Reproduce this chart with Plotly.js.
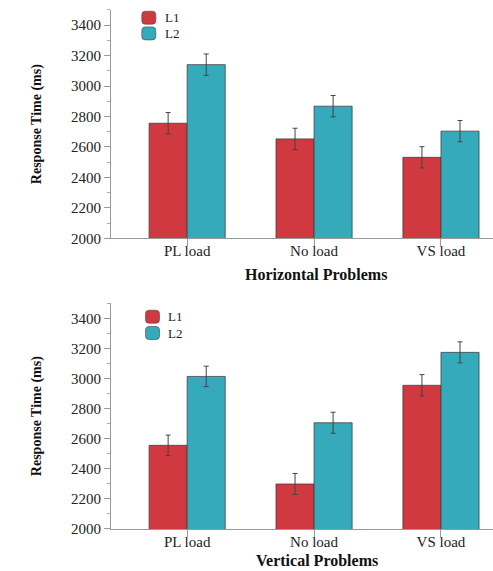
<!DOCTYPE html>
<html><head><meta charset="utf-8">
<script src="https://cdn.plot.ly/plotly-3.0.1.min.js"></script>
<style>body{margin:0;padding:0;background:#fff}#chart{width:493px;height:571px}</style>
</head><body><div id="chart"></div>
<script>
const categories = ["PL load", "No load", "VS load"];
const seriesNames = ["L1", "L2"];
const horizL1 = [2756, 2653, 2532];
const horizL2 = [3141, 2868, 2704];
const horizL1Err = [70, 70, 70];
const horizL2Err = [70, 70, 70];
const vertL1 = [2556, 2299, 2955];
const vertL2 = [3014, 2706, 3174];
const vertL1Err = [68, 70, 71];
const vertL2Err = [68, 70, 70];
const panelTitles = ["Horizontal Problems", "Vertical Problems"];
const yTitle = "Response Time (ms)";

const RED = "#d0393f", TEAL = "#35aabb";
const FONT = "Liberation Serif, Times New Roman, serif";
const W = 493, H = 571;

function barTrace(name, y, err, color, xa, ya) {
  return {
    type: "bar", name: name, x: categories, y: y, xaxis: xa, yaxis: ya,
    showlegend: false,
    marker: {color: color, line: {color: "rgba(60,60,60,0.75)", width: 1}},
    error_y: {type: "data", array: err, visible: true, color: "#444", thickness: 1, width: 2.5}
  };
}

const data = [
  barTrace(seriesNames[0], horizL1, horizL1Err, RED, "x", "y"),
  barTrace(seriesNames[1], horizL2, horizL2Err, TEAL, "x", "y"),
  barTrace(seriesNames[0], vertL1, vertL1Err, RED, "x2", "y2"),
  barTrace(seriesNames[1], vertL2, vertL2Err, TEAL, "x2", "y2")
];

function yax(domain, anchor) {
  return {
    domain: domain, anchor: anchor, range: [2000, 3500], autorange: false,
    dtick: 200, tick0: 2000, ticks: "outside", ticklen: 6, tickcolor: "#999", tickwidth: 1,
    minor: {dtick: 100, ticks: "outside", ticklen: 3, tickcolor: "#aaa", showgrid: false},
    showline: true, linecolor: "#999", linewidth: 1, showgrid: false, zeroline: false,
    tickfont: {family: FONT, size: 15, color: "#222"},
    title: {text: yTitle, font: {family: FONT, size: 14, color: "#111", weight: "bold"}, standoff: 26}
  };
}
function xax(domain, anchor) {
  return {
    domain: domain, anchor: anchor, range: [-0.6, 2.41], autorange: false,
    ticks: "outside", ticklen: 7, tickcolor: "#999", tickwidth: 1,
    ticklabelstandoff: -8,
    showline: true, linecolor: "#999", linewidth: 1, showgrid: false, zeroline: false,
    tickfont: {family: FONT, size: 15, color: "#222"}
  };
}

// custom legend: rounded swatches + labels (pixel positions)
const legendSpots = [
  {sx: 148.8, sy: [17.7, 33.4], tx: 163},
  {sx: 152.5, sy: [316.7, 333.0], tx: 166}
];
const swatch = "M-3.5,-6.5 H3.5 Q7,-6.5 7,-3 V3 Q7,6.5 3.5,6.5 H-3.5 Q-7,6.5 -7,3 V-3 Q-7,-6.5 -3.5,-6.5 Z";
const shapes = [], annotations = [];
const colors = [RED, TEAL];
legendSpots.forEach(function (spot) {
  for (let i = 0; i < 2; i++) {
    shapes.push({type: "path", xref: "paper", yref: "paper", xsizemode: "pixel", ysizemode: "pixel",
      xanchor: spot.sx / W, yanchor: 1 - spot.sy[i] / H, path: swatch,
      fillcolor: colors[i], line: {color: "rgba(70,70,70,0.6)", width: 1}});
    annotations.push({text: seriesNames[i], xref: "paper", yref: "paper", x: spot.tx / W, y: 1 - spot.sy[i] / H,
      xanchor: "left", yanchor: "middle", showarrow: false, font: {family: FONT, size: 13, color: "#222"}});
  }
});
annotations.push(
  {text: "<b>" + panelTitles[0] + "</b>", xref: "paper", yref: "paper", x: 0.641, y: 0.520,
   xanchor: "center", yanchor: "middle", showarrow: false, font: {family: FONT, size: 16, color: "#111"}},
  {text: "<b>" + panelTitles[1] + "</b>", xref: "paper", yref: "paper", x: 0.643, y: 0.0,
   xanchor: "center", yanchor: "bottom", showarrow: false, font: {family: FONT, size: 16, color: "#111"}}
);

const layout = {
  width: W, height: H,
  margin: {l: 0, r: 0, t: 0, b: 0},
  paper_bgcolor: "#fff", plot_bgcolor: "#fff",
  barmode: "group", bargap: 0.4, bargroupgap: 0,
  showlegend: false,
  font: {family: FONT},
  xaxis: xax([0.2252, 1], "y"),
  yaxis: yax([0.5827, 0.9825], "x"),
  xaxis2: xax([0.2252, 1], "y2"),
  yaxis2: yax([0.0736, 0.4688], "x2"),
  shapes: shapes,
  annotations: annotations
};

Plotly.newPlot("chart", data, layout, {displayModeBar: false, staticPlot: true});
</script></body></html>
